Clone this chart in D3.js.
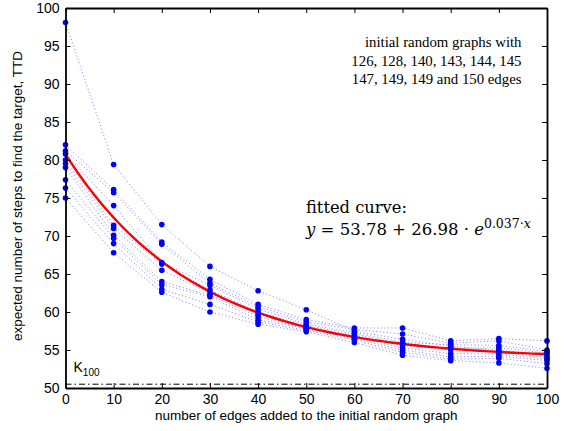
<!DOCTYPE html>
<html>
<head>
<meta charset="utf-8">
<script src="https://cdn.jsdelivr.net/npm/d3@7"></script>
<style>
  body { margin: 0; background: #fff; }
  text { font-family: "Liberation Sans", Arial, sans-serif; }
  .serif { font-family: "Liberation Serif", "Times New Roman", serif; }
  .math { font-family: "DejaVu Serif", "Liberation Serif", serif; }
</style>
</head>
<body>
<svg id="svg" width="569" height="431"></svg>
<script>
// edges added to the initial graph
let xValues = [0, 10, 20, 30, 40, 50, 60, 70, 80, 90, 100];

// one row per initial random graph (TTD)
let series = [
  [98.1, 79.4, 71.5, 66.0, 62.8, 60.3, 57.5, 56.4, 55.5, 55.0, 54.3],
  [82.0, 76.1, 69.2, 64.3, 61.0, 59.0, 57.9, 57.9, 56.2, 56.5, 56.2],
  [81.2, 75.7, 68.9, 63.8, 60.7, 58.7, 57.7, 57.1, 55.9, 56.2, 55.0],
  [80.8, 74.0, 66.5, 63.5, 60.4, 58.4, 57.3, 56.0, 55.7, 55.6, 54.8],
  [80.0, 71.4, 66.3, 62.9, 60.0, 58.2, 57.1, 55.8, 55.2, 55.3, 54.6],
  [79.5, 71.0, 65.5, 62.5, 59.7, 58.0, 56.9, 55.6, 55.0, 54.8, 54.0],
  [79.0, 70.1, 64.0, 62.2, 59.4, 57.8, 56.7, 55.3, 54.5, 54.5, 53.8],
  [77.4, 69.7, 63.6, 62.0, 59.0, 57.8, 56.5, 55.0, 54.1, 54.2, 53.6],
  [76.3, 69.0, 63.0, 61.0, 58.7, 57.6, 56.3, 54.7, 53.8, 53.9, 53.2],
  [75.0, 67.8, 62.6, 60.0, 58.4, 57.4, 56.0, 54.3, 53.6, 53.3, 52.6]
];

// fitted curve y = a + b * exp(-c * x)
let fitA = 53.78, fitB = 26.98, fitC = 0.037;
let k100 = 50.5;

let xTicks = d3.range(0, 101, 10);
let yTicks = d3.range(50, 101, 5);

let margin = {top: 8, right: 22, bottom: 43, left: 65.5};
let svgWidth = 569, svgHeight = 431;
let width = svgWidth - margin.left - margin.right;
let height = svgHeight - margin.top - margin.bottom;

let svg = d3.select('#svg');
let g = svg.append('g').attr('transform', `translate(${margin.left},${margin.top})`);

let xScale = d3.scaleLinear().domain([0, 100]).range([0, width]);
let yScale = d3.scaleLinear().domain([50, 100]).range([height, 0]);

// dotted series lines
let line = d3.line()
  .x((d, i) => xScale(xValues[i]))
  .y(d => yScale(d));

g.append('g').selectAll('path')
  .data(series)
  .enter()
  .append('path')
  .attr('d', d => line(d))
  .attr('fill', 'none')
  .attr('stroke', '#3a3aff')
  .attr('stroke-opacity', 0.65)
  .attr('stroke-width', 1)
  .attr('stroke-dasharray', '1,2.5');

// K100 reference line
g.append('line')
  .attr('x1', xScale(0)).attr('x2', xScale(100))
  .attr('y1', yScale(k100)).attr('y2', yScale(k100))
  .attr('stroke', '#000')
  .attr('stroke-width', 1)
  .attr('stroke-dasharray', '6,3,1.5,3');

// fitted curve
let fitX = d3.range(0, 100.5, 1);
let fitLine = d3.line()
  .x(d => xScale(d))
  .y(d => yScale(fitA + fitB * Math.exp(-fitC * d)));
g.append('path')
  .attr('d', fitLine(fitX))
  .attr('fill', 'none')
  .attr('stroke', '#ff0000')
  .attr('stroke-width', 2.4);

// dots
let points = [];
series.forEach(s => s.forEach((v, i) => points.push([xValues[i], v])));
g.append('g').selectAll('circle')
  .data(points)
  .enter()
  .append('circle')
  .attr('cx', d => xScale(d[0]))
  .attr('cy', d => yScale(d[1]))
  .attr('r', 2.8)
  .attr('fill', '#0000ff');

// axes, box style with inward ticks
let axisFont = 14;
let gx = g.append('g').attr('transform', `translate(0,${height})`)
  .call(d3.axisBottom(xScale).tickValues(xTicks).tickSizeInner(-5).tickSizeOuter(0).tickPadding(8));
let gy = g.append('g')
  .call(d3.axisLeft(yScale).tickValues(yTicks).tickSizeInner(-5).tickSizeOuter(0).tickPadding(9));
let gxTop = g.append('g')
  .call(d3.axisTop(xScale).tickValues(xTicks).tickSizeInner(-5).tickSizeOuter(0).tickFormat(''));
let gyRight = g.append('g').attr('transform', `translate(${width},0)`)
  .call(d3.axisRight(yScale).tickValues(yTicks).tickSizeInner(-5).tickSizeOuter(0).tickFormat(''));

[gx, gy, gxTop, gyRight].forEach(a => {
  a.select('.domain').attr('stroke', '#000').attr('stroke-width', 1.8);
  a.selectAll('.tick line').attr('stroke', '#000').attr('stroke-width', 1);
  a.selectAll('.tick text')
    .attr('fill', '#000')
    .style('font-family', '"Liberation Sans", Arial, sans-serif')
    .style('font-size', axisFont + 'px');
});
gy.selectAll('.tick text').attr('dx', '3');
gx.selectAll('.tick text').attr('dy', '0.6em');

// axis titles
svg.append('text')
  .attr('x', margin.left + width / 2)
  .attr('y', 420)
  .attr('text-anchor', 'middle')
  .style('font-size', '13.5px')
  .text('number of edges added to the initial random graph');

svg.append('text')
  .attr('transform', `translate(22,${margin.top + height / 2 - 2}) rotate(-90)`)
  .attr('text-anchor', 'middle')
  .style('font-size', '13.5px')
  .text('expected number of steps to find the target, TTD');

// K100 label
let kText = g.append('text')
  .attr('x', 8)
  .attr('y', yScale(k100) - 12)
  .style('font-size', '14px');
kText.append('tspan').text('K');
kText.append('tspan').attr('dy', 4).style('font-size', '10px').text('100');

// annotations
let notes = ['initial random graphs with', '126, 128, 140, 143, 144, 145', '147, 149, 149 and 150 edges'];
g.append('g').selectAll('text')
  .data(notes)
  .enter()
  .append('text')
  .attr('class', 'serif')
  .attr('x', 521.5 - margin.left)
  .attr('y', (d, i) => 47 - margin.top + i * 18.7)
  .attr('text-anchor', 'end')
  .style('font-size', '14.8px')
  .text(d => d);

g.append('text')
  .attr('class', 'math')
  .attr('x', 306 - margin.left)
  .attr('y', 213 - margin.top)
  .style('font-size', '16.3px')
  .text('fitted curve:');

let eq = g.append('text')
  .attr('class', 'math')
  .attr('x', 306 - margin.left)
  .attr('y', 235 - margin.top)
  .style('font-size', '16.5px');
eq.append('tspan').style('font-style', 'italic').text('y');
eq.append('tspan').text(` = ${fitA} + ${fitB} · `);
eq.append('tspan').style('font-style', 'italic').text('e');
eq.append('tspan').attr('dy', -7).style('font-size', '12.5px').text(fitC + '·');
eq.append('tspan').style('font-size', '12.5px').style('font-style', 'italic').text('x');
</script>
</body>
</html>
